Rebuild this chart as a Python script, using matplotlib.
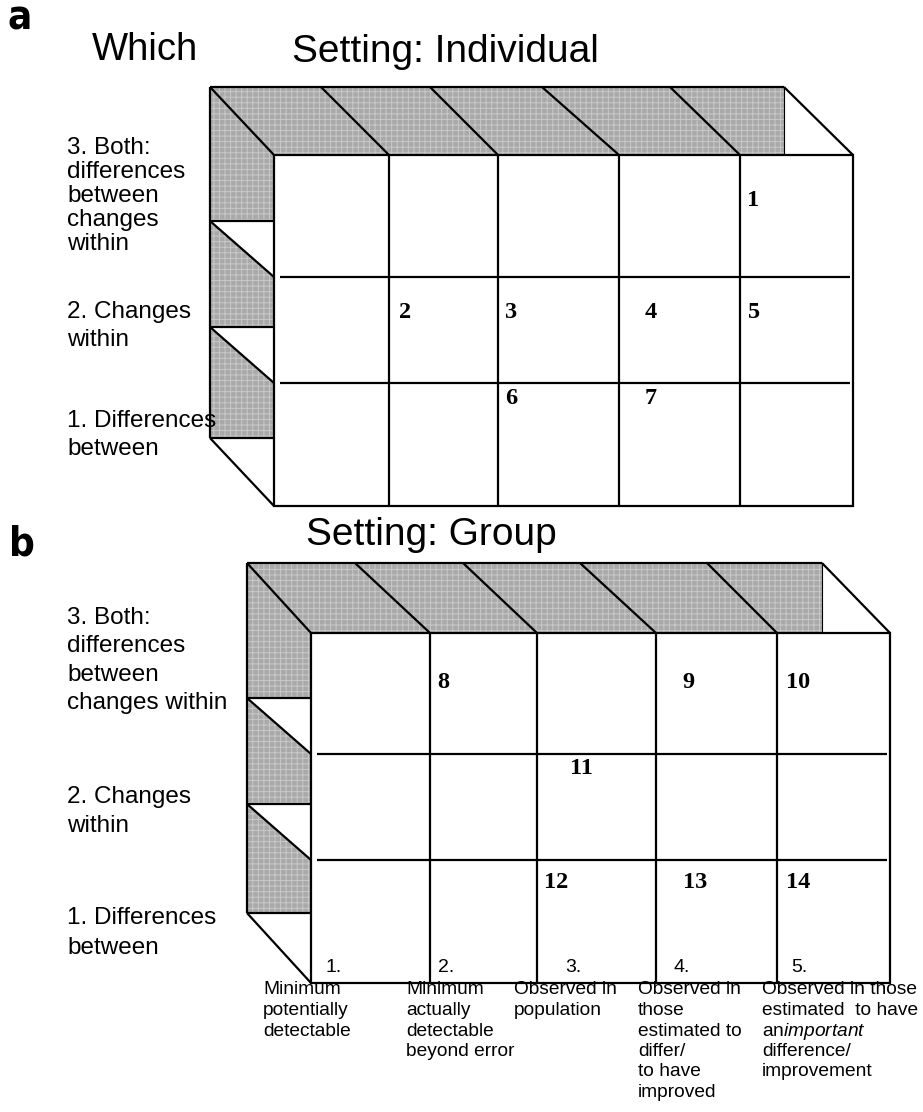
import matplotlib.pyplot as plt
from matplotlib.patches import Polygon

plt.rcParams['font.family'] = ['Liberation Sans', 'DejaVu Sans']
plt.rcParams['mathtext.fontset'] = 'custom'
plt.rcParams['mathtext.rm'] = 'Liberation Sans'
plt.rcParams['mathtext.it'] = 'Liberation Sans:italic'
plt.rcParams['hatch.linewidth'] = 0.7

# chart content
titles = ["Setting: Individual", "Setting: Group"]
row_labels_a = ["3. Both:\ndifferences\nbetween\nchanges\nwithin", "2. Changes\nwithin", "1. Differences\nbetween"]
row_labels_b = ["3. Both:\ndifferences\nbetween\nchanges within", "2. Changes\nwithin", "1. Differences\nbetween"]
col_numbers = ["1.", "2.", "3.", "4.", "5."]
col_labels = ["Minimum\npotentially\ndetectable",
              "Minimum\nactually\ndetectable\nbeyond error",
              "Observed in\npopulation",
              "Observed in\nthose\nestimated to\ndiffer/\nto have\nimproved",
              "Observed in those\nestimated  to have\nan$\\mathit{important}$\ndifference/\nimprovement"]
# (number, row from top, column)
cells_a = [("1", 0, 4), ("2", 1, 1), ("3", 1, 2), ("4", 1, 3), ("5", 1, 4), ("6", 2, 2), ("7", 2, 3)]
cells_b = [("8", 0, 1), ("9", 0, 3), ("10", 0, 4), ("11", 1, 2), ("12", 2, 2), ("13", 2, 3), ("14", 2, 4)]

# layout (pixel space)
W, H = 923, 1112
GREY = '#a9a9a9'
LW = 1.6

fig = plt.figure(figsize=(W / 100, H / 100), dpi=100)
ax = fig.add_axes([0, 0, 1, 1])
ax.set_xlim(0, W)
ax.set_ylim(H, 0)
ax.axis('off')


def line(x0, y0, x1, y1, lw=LW):
    ax.plot([x0, x1], [y0, y1], color='black', lw=lw, solid_capstyle='butt')


def shade(pts):
    ax.add_patch(Polygon(pts, closed=True, facecolor=GREY, edgecolor='#c9c9c9',
                         hatch='+++', lw=0))


def box(xs, bxs, ys, bt, dy_bottom, shelf=56):
    fl, fr = xs[0], xs[-1]
    ft, fb = ys[0], ys[-1]
    bl, br = bxs[0], bxs[-1]
    shelves = [y - shelf for y in ys[1:-1]] + [fb + dy_bottom]
    # top face
    shade([(bl, bt), (br, bt), (br, ft), (fl, ft)])
    line(bl, bt, br, bt)
    line(br, bt, br, ft, lw=0.8)
    for bx, fx in zip(bxs, xs):
        line(bx, bt, fx, ft)
    # left face
    shade([(bl, bt), (fl, ft), (fl, shelves[0]), (bl, shelves[0])])
    for k in range(len(shelves) - 1):
        shade([(bl, shelves[k]), (fl, ys[k + 1]), (fl, shelves[k + 1]), (bl, shelves[k + 1])])
    line(bl, bt, bl, shelves[-1])
    for k, s in enumerate(shelves):
        line(bl, s, fl, s)
        line(bl, s, fl, ys[k + 1])
    # front face
    ax.add_patch(Polygon([(fl, ft), (fr, ft), (fr, fb), (fl, fb)], closed=True,
                         facecolor='white', edgecolor='black', lw=LW))
    for x in xs[1:-1]:
        line(x, ft, x, fb)
    for y in ys[1:-1]:
        line(fl + 6, y, fr - 3, y)


def row_texts(labels, x, firsts, gaps):
    for lab, y0, g in zip(labels, firsts, gaps):
        for i, t in enumerate(lab.split('\n')):
            ax.text(x, y0 + i * g, t, fontsize=17.5, ha='left', va='center')


def cell_numbers(cells, xs, ys, offs):
    for (num, r, c), (ox, oy) in zip(cells, offs):
        ax.text(xs[c] + ox, ys[r] + oy, num, fontsize=17.5, fontweight='bold',
                family='Liberation Serif', ha='center', va='center')


# panel a
xs_a = [274, 389, 498, 619, 740, 853]
bxs_a = [210, 321, 430, 542, 670, 784]
ys_a = [155, 277, 383, 506]
box(xs_a, bxs_a, ys_a, 87, -68)
ax.text(20, 18, 'a', fontsize=29, fontweight='heavy', family='DejaVu Sans',
        fontstretch='condensed', ha='center', va='center')
ax.text(145, 50, 'Which', fontsize=27.5, ha='center', va='center')
ax.text(445, 52, titles[0], fontsize=28, ha='center', va='center')
row_texts(row_labels_a, 67, [148, 312, 421], [24, 28, 28])
cell_numbers(cells_a, xs_a, ys_a,
             [(13, 45), (16, 36), (13, 36), (32, 36), (14, 36), (13, 16), (32, 16)])

# panel b
xs_b = [311, 430, 537, 656, 777, 890]
bxs_b = [247, 355, 463, 580, 707, 822]
ys_b = [633, 754, 860, 983]
box(xs_b, bxs_b, ys_b, 563, -70)
ax.text(22, 545, 'b', fontsize=29, fontweight='heavy', family='DejaVu Sans',
        fontstretch='condensed', ha='center', va='center')
ax.text(431, 535, titles[1], fontsize=28, ha='center', va='center')
row_texts(row_labels_b, 67, [618, 797, 918], [28.5, 29, 30])
cell_numbers(cells_b, xs_b, ys_b,
             [(13, 50), (32, 50), (21, 50), (44, 14), (19, 22), (39, 22), (21, 22)])

for x, n, ox in zip(xs_b[:-1], col_numbers, [23, 16, 36, 26, 22]):
    ax.text(x + ox, 967, n, fontsize=14, ha='center', va='center')

for x, lab, ox in zip(xs_b[:-1], col_labels, [-48, -24, -23, -18, -15]):
    for i, t in enumerate(lab.split('\n')):
        ax.text(x + ox, 990 + i * 20.5, t, fontsize=13.8, ha='left', va='center')

fig.savefig('out.png', dpi=100)
